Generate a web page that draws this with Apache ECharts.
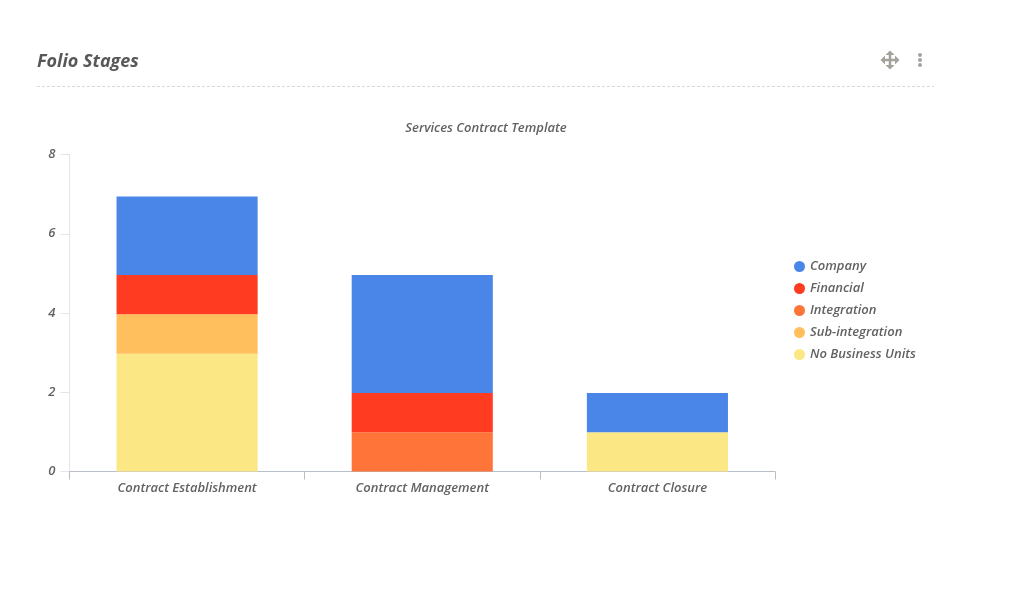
<!DOCTYPE html>
<html>
<head>
<meta charset="utf-8">
<style>html,body{margin:0;padding:0;background:#fff}#c{width:1022px;height:608px}</style>
<script src="https://cdn.jsdelivr.net/npm/echarts@6/dist/echarts.min.js"></script>
</head>
<body>
<div id="c"></div>
<script>
const stages = ['Contract Establishment', 'Contract Management', 'Contract Closure'];
const company = [2, 3, 1];
const financial = [1, 1, 0];
const integration = [0, 1, 0];
const subIntegration = [1, 0, 0];
const noBusinessUnits = [3, 0, 1];
const yTicks = [0, 2, 4, 6, 8];

const FONT = '"Open Sans"';
const TEXT = '#626262';
const ICON = '#a5a19b';
const labelStyle = { fontFamily: FONT, fontSize: 13, fontStyle: 'italic', fontWeight: 600, color: TEXT };

function stackSeries(name, values, color) {
  return {
    name, type: 'bar', stack: 'stage', barWidth: '60%', yAxisIndex: 1,
    data: values.map(v => v === 0 ? null : v),
    itemStyle: { color },
    emphasis: { disabled: true }
  };
}

const chart = echarts.init(document.getElementById('c'), null, { renderer: 'canvas' });
chart.setOption({
  animation: false,
  backgroundColor: '#fff',
  title: [
    { text: 'Folio Stages', left: 32, top: 48,
      textStyle: { fontFamily: FONT, fontSize: 18, fontStyle: 'italic', fontWeight: 700, color: '#585858' } },
    { text: 'Services Contract Template', left: 481, top: 117, textAlign: 'center',
      textStyle: labelStyle }
  ],
  legend: {
    orient: 'vertical', left: 789, top: 254, icon: 'circle',
    itemWidth: 11, itemHeight: 11, itemGap: 7, selectedMode: false,
    textStyle: { ...labelStyle, lineHeight: 15 },
    data: ['Company', 'Financial', 'Integration', 'Sub-integration', 'No Business Units']
  },
  grid: { left: 69.5, top: 154.5, width: 705.5, height: 317, containLabel: false },
  xAxis: {
    type: 'category', data: stages,
    axisLine: { lineStyle: { color: '#b8bfc9', width: 1 } },
    axisTick: { show: true, length: 8, lineStyle: { color: '#b8bfc9' } },
    axisLabel: { ...labelStyle, margin: 10 }
  },
  yAxis: [
    {
      type: 'value', min: yTicks[0], max: yTicks[yTicks.length - 1], interval: 2,
      axisLine: { show: true, lineStyle: { color: '#e4e4e4', width: 1 } },
      axisTick: { show: true, length: 9, lineStyle: { color: '#e4e4e4' } },
      splitLine: { show: false },
      axisLabel: { ...labelStyle, margin: 14, padding: [4, 0, 0, 0] }
    },
    // the bars use their own slightly wider scale, so their tops sit just under the ticks
    { type: 'value', min: 0, max: 8.07, show: false, splitLine: { show: false } }
  ],
  series: [
    stackSeries('No Business Units', noBusinessUnits, '#fbe885'),
    stackSeries('Sub-integration', subIntegration, '#ffbf5c'),
    stackSeries('Integration', integration, '#ff7438'),
    stackSeries('Financial', financial, '#ff3b22'),
    stackSeries('Company', company, '#4a86e8')
  ],
  graphic: [
    { type: 'line', shape: { x1: 37, y1: 86.5, x2: 934, y2: 86.5 },
      style: { stroke: '#d9d9d9', lineWidth: 1, lineDash: [3, 2] } },
    // move handle: crossed shaft with four arrowheads
    { type: 'group', x: 890, y: 60, children: [
      { type: 'line', shape: { x1: -7, y1: 0, x2: 7, y2: 0 }, style: { stroke: ICON, lineWidth: 2.5 } },
      { type: 'line', shape: { x1: 0, y1: -7, x2: 0, y2: 7 }, style: { stroke: ICON, lineWidth: 2.5 } },
      { type: 'polygon', shape: { points: [[-9.5, 0], [-5, -4.5], [-5, 4.5]] }, style: { fill: ICON } },
      { type: 'polygon', shape: { points: [[9.5, 0], [5, -4.5], [5, 4.5]] }, style: { fill: ICON } },
      { type: 'polygon', shape: { points: [[0, -9.5], [-4.5, -5], [4.5, -5]] }, style: { fill: ICON } },
      { type: 'polygon', shape: { points: [[0, 9.5], [-4.5, 5], [4.5, 5]] }, style: { fill: ICON } }
    ] },
    // overflow menu dots
    { type: 'circle', shape: { cx: 920, cy: 55, r: 2 }, style: { fill: ICON } },
    { type: 'circle', shape: { cx: 920, cy: 60, r: 2 }, style: { fill: ICON } },
    { type: 'circle', shape: { cx: 920, cy: 65, r: 2 }, style: { fill: ICON } }
  ]
});
</script>
</body>
</html>
